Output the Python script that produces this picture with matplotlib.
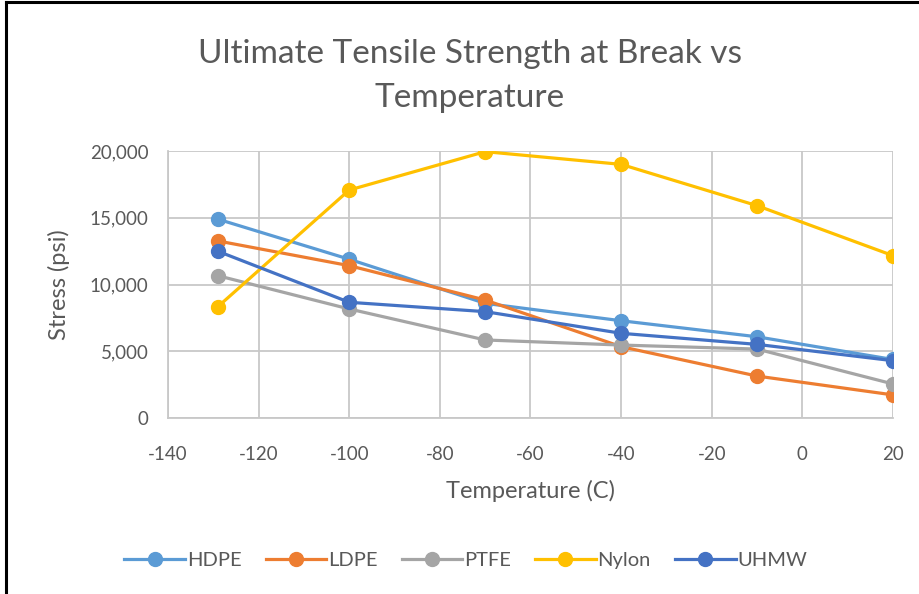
import matplotlib.pyplot as plt
from matplotlib.lines import Line2D
from matplotlib.ticker import FuncFormatter

temps = [-129, -100, -70, -40, -10, 20]
hdpe = [14900, 11900, 8600, 7300, 6100, 4400]
ldpe = [13270, 11420, 8850, 5360, 3160, 1750]
ptfe = [10670, 8180, 5860, 5480, 5180, 2570]
nylon = [8350, 17080, 19950, 19000, 15910, 12170]
uhmw = [12500, 8680, 7980, 6360, 5530, 4310]

names = ["HDPE", "LDPE", "PTFE", "Nylon", "UHMW"]
colors = ["#5B9BD5", "#ED7D31", "#A5A5A5", "#FFC000", "#4472C4"]
txt = "#595959"

plt.rcParams['font.family'] = ['Lato', 'DejaVu Sans']
plt.rcParams['axes.unicode_minus'] = False

fig = plt.figure(figsize=(9.19, 5.94), dpi=100)
ax = fig.add_axes([0.1828, 0.2958, 0.7889, 0.4500])

for name, vals, c in zip(names, [hdpe, ldpe, ptfe, nylon, uhmw], colors):
    ax.plot(temps, vals, color=c, lw=2.3, marker='o', ms=10, label=name)

ax.set_xlim(-140, 20)
ax.set_ylim(0, 20000)
ax.set_xticks(range(-140, 21, 20))
ax.set_yticks(range(0, 20001, 5000))
ax.yaxis.set_major_formatter(FuncFormatter(lambda v, p: f"{int(v):,}"))
ax.grid(True, color="#C8C8C8", lw=1.3)
ax.set_axisbelow(True)
for s in ["top", "right"]:
    ax.spines[s].set_visible(False)
for s in ["left", "bottom"]:
    ax.spines[s].set_color("#C8C8C8")
    ax.spines[s].set_linewidth(1.3)
ax.tick_params(length=0, labelsize=13.5, labelcolor=txt)
ax.tick_params(axis='x', pad=20)
ax.tick_params(axis='y', pad=14)

ax.set_xlabel("Temperature (C)", fontsize=17, color=txt, labelpad=12)
ax.set_ylabel("Stress (psi)", fontsize=17, color=txt, labelpad=14)

fig.text(0.511, 0.872, "Ultimate Tensile Strength at Break vs\nTemperature",
         ha='center', va='center', fontsize=24, color=txt, linespacing=1.6)

handles = [Line2D([], [], color=c, lw=2.3, marker='o', ms=10) for c in colors]
leg = fig.legend(handles, names, loc='center', bbox_to_anchor=(0.507, 0.057),
                 ncol=5, frameon=False, fontsize=14.5, handlelength=3.0,
                 columnspacing=1.2, handletextpad=0.1)
for t in leg.get_texts():
    t.set_color(txt)

# frame edges of the original box
fig.add_artist(Line2D([0.007, 0.007], [0, 0.997], color='black', lw=2.2,
                      transform=fig.transFigure))
fig.add_artist(Line2D([0.007, 1.0], [0.997, 0.997], color='black', lw=2.2,
                      transform=fig.transFigure))

fig.savefig("out.png", dpi=100)
